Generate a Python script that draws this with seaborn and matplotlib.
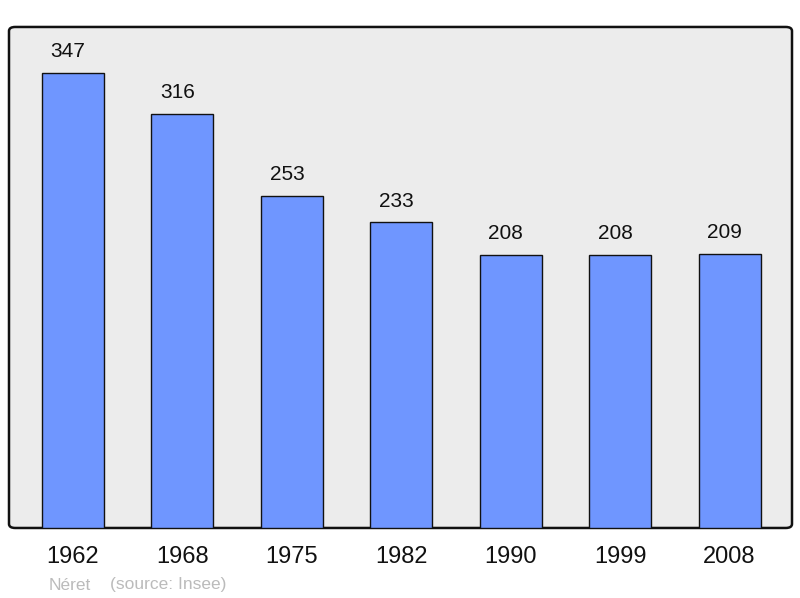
import matplotlib
matplotlib.use("Agg")
import matplotlib.pyplot as plt
import seaborn as sns
import pandas as pd
from matplotlib.patches import FancyBboxPatch

years = ["1962", "1968", "1975", "1982", "1990", "1999", "2008"]
population = [347, 316, 253, 233, 208, 208, 209]
commune = "Néret"
source = "(source: Insee)"

df = pd.DataFrame({"year": years, "pop": population})

sns.set_style("white")
plt.rcParams["font.family"] = ["Liberation Sans", "DejaVu Sans"]

fig = plt.figure(figsize=(8, 5.98), dpi=100)
ax = fig.add_axes([0.01125, 0.1171, 0.97875, 0.8378])
ax.set_facecolor("none")

# rounded background frame
frame = FancyBboxPatch((0, 0), 1, 1, boxstyle="round,pad=0,rounding_size=0.008",
                       transform=ax.transAxes, facecolor="#ececec",
                       edgecolor="#111111", linewidth=1.8, zorder=0, clip_on=False)
ax.add_patch(frame)

sns.barplot(data=df, x="year", y="pop", color="#6f96ff", saturation=1,
            width=0.567, edgecolor="#111111", linewidth=1.0, ax=ax, zorder=2)

# value labels, sitting a little left of the bar centres like the original
for i, v in enumerate(population):
    ax.annotate(str(v), (i, v), xytext=(-3.5, 8.5), textcoords="offset points",
                ha="center", va="bottom", fontsize=15, color="#111111")

ax.set_xlim(-0.585, 6.571)
ax.set_ylim(0, 382)
for s in ax.spines.values():
    s.set_visible(False)
ax.set_yticks([])
ax.tick_params(axis="x", length=0, pad=13, labelsize=17, labelcolor="#111111")
ax.set_xlabel("")
ax.set_ylabel("")

fig.text(49 / 800, 1 - 585 / 598, commune, fontsize=12.5, color="#bbbbbb", va="center")
fig.text(110 / 800, 1 - 585 / 598, source, fontsize=12.5, color="#bbbbbb", va="center")

fig.savefig("out.png", dpi=100)
